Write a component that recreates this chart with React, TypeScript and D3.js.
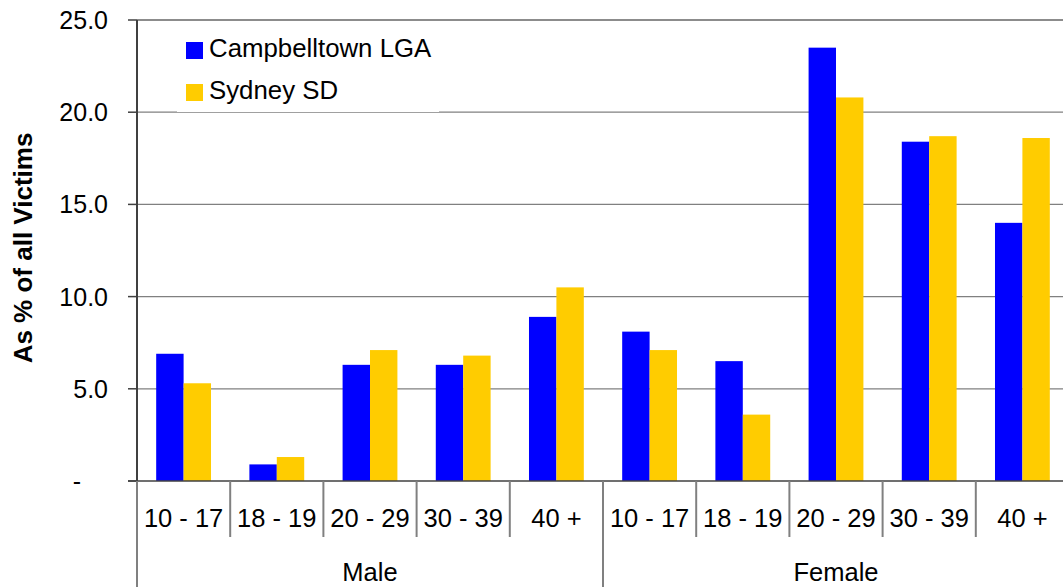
import React from 'react';
import * as d3 from 'd3';

const groups = ['Male', 'Female'];
const ageBands = ['10 - 17', '18 - 19', '20 - 29', '30 - 39', '40 +'];
const seriesNames = ['Campbelltown LGA', 'Sydney SD'];
const campbelltown = [6.9, 0.9, 6.3, 6.3, 8.9, 8.1, 6.5, 23.5, 18.4, 14.0];
const sydney = [5.3, 1.3, 7.1, 6.8, 10.5, 7.1, 3.6, 20.8, 18.7, 18.6];
const yTicks = [0, 5, 10, 15, 20, 25];

const W = 1063;
const H = 587;
const colors = ['#0000ff', '#ffcc00'];
const font = "'Liberation Sans', Arial, sans-serif";

export default function App() {
  const left = 137;
  const right = 1069;
  const top = 20;
  const bottom = 481;

  const keys = groups.flatMap(g => ageBands.map(a => `${g}|${a}`));
  const x0 = d3.scaleBand().domain(keys).range([left, right]).padding(0);
  const x1 = d3.scaleBand().domain(seriesNames).range([0, x0.bandwidth()]).paddingInner(0).paddingOuter(0.7);
  const y = d3.scaleLinear().domain([0, 25]).range([bottom, top]);

  const rows = keys.map((k, i) => ({ key: k, values: [campbelltown[i], sydney[i]] }));
  const groupX = d3.scaleBand().domain(groups).range([left, right]).padding(0);

  return (
    <svg width={W} height={H} style={{ position: 'absolute', left: 0, top: 0, background: '#fff' }}
      fontFamily={font}>
      {/* gridlines */}
      {yTicks.filter(t => t > 0 && t < 25).map(t => (
        <line key={t} x1={left} x2={right} y1={y(t)} y2={y(t)} stroke="#808080" strokeWidth={1.2} />
      ))}
      <line x1={left} x2={right} y1={y(25)} y2={y(25)} stroke="#8c8c8c" strokeWidth={2} />

      {/* bars */}
      {rows.map(r => (
        <g key={r.key} transform={`translate(${x0(r.key)},0)`}>
          {r.values.map((v, j) => (
            <rect key={j} x={x1(seriesNames[j])} y={y(v)} width={x1.bandwidth()}
              height={y(0) - y(v)} fill={colors[j]} />
          ))}
        </g>
      ))}

      {/* legend */}
      <rect x={177} y={24} width={262} height={88} fill="#fff" />
      {seriesNames.map((s, i) => (
        <g key={s} transform={`translate(186,${42 + i * 42})`}>
          <rect x={0} y={0} width={17} height={17} fill={colors[i]} />
          <text x={23} y={15} fontSize={25.8} fill="#000">{s}</text>
        </g>
      ))}

      {/* y axis */}
      <line x1={left} x2={left} y1={top} y2={bottom} stroke="#404040" strokeWidth={2} />
      {yTicks.map(t => (
        <g key={t}>
          <line x1={left - 9} x2={left} y1={y(t)} y2={y(t)} stroke="#404040" strokeWidth={1.5} />
          <text x={t === 0 ? 81 : 108} y={y(t) + 9} textAnchor="end" fontSize={25} fill="#000">
            {t === 0 ? '-' : t.toFixed(1)}
          </text>
        </g>
      ))}
      <text transform={`translate(32,248) rotate(-90)`} textAnchor="middle" fontSize={26}
        fontWeight="bold" fill="#000">As % of all Victims</text>

      {/* x axis */}
      <line x1={left - 9} x2={right} y1={bottom} y2={bottom} stroke="#404040" strokeWidth={1.5} />
      {keys.map((k, i) => (
        <g key={k}>
          {i % ageBands.length !== 0 && (
            <line x1={x0(k)} x2={x0(k)} y1={bottom} y2={537} stroke="#808080" strokeWidth={2} />
          )}
          <text x={x0(k) + x0.bandwidth() / 2} y={527} textAnchor="middle" fontSize={25.5} fill="#000">
            {k.split('|')[1]}
          </text>
        </g>
      ))}
      {groups.map(g => (
        <g key={g}>
          <line x1={groupX(g)} x2={groupX(g)} y1={bottom} y2={H} stroke="#808080" strokeWidth={2} />
          <text x={groupX(g) + groupX.bandwidth() / 2} y={581} textAnchor="middle" fontSize={25.5} fill="#000">{g}</text>
        </g>
      ))}
    </svg>
  );
}
